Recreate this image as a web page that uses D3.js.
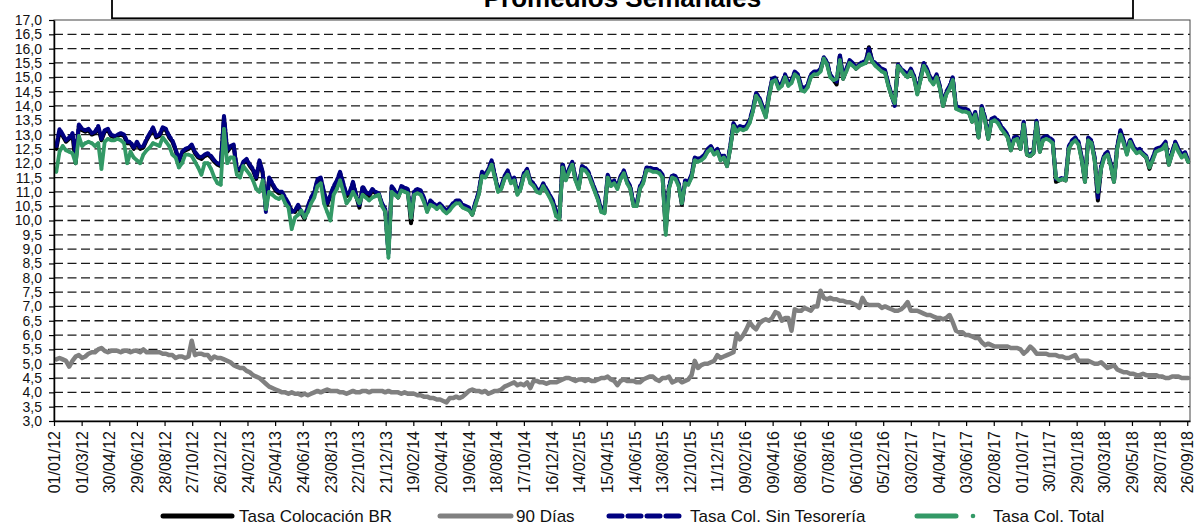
<!DOCTYPE html>
<html><head><meta charset="utf-8">
<script src="https://cdn.jsdelivr.net/npm/d3@7"></script>
<style>
html,body{margin:0;padding:0;background:#fff;}
svg{display:block;font-family:Arial,"Liberation Sans",sans-serif;}
</style></head><body>
<svg id="chart" width="1197" height="525"></svg>
<script>
const title = "Promedios Semanales";
const seriesNames = ["Tasa Colocación BR", "90 Días", "Tasa Col. Sin Tesorería", "Tasa Col. Total"];
const firstWeek = "2012-01-06";
const axisStart = "2012-01-01";
const axisEnd = "2018-10-02";
const xTickLabels = ["01/01/12","01/03/12","30/04/12","29/06/12","28/08/12","27/10/12","26/12/12","24/02/13","25/04/13","24/06/13","23/08/13","22/10/13","21/12/13","19/02/14","20/04/14","19/06/14","18/08/14","17/10/14","16/12/14","14/02/15","15/04/15","14/06/15","13/08/15","12/10/15","11/12/15","09/02/16","09/04/16","08/06/16","07/08/16","06/10/16","05/12/16","03/02/17","04/04/17","03/06/17","02/08/17","01/10/17","30/11/17","29/01/18","30/03/18","29/05/18","28/07/18","26/09/18"];
const yTickValues = [3,3.5,4,4.5,5,5.5,6,6.5,7,7.5,8,8.5,9,9.5,10,10.5,11,11.5,12,12.5,13,13.5,14,14.5,15,15.5,16,16.5,17];

const sinTesoreria = [
12.6,13.2,13.0,12.8,12.9,13.05,12.3,13.35,13.2,13.15,
13.2,13.05,13.1,13.3,12.85,13.15,13.2,13.0,12.95,13.0,
13.05,13.0,12.75,12.75,12.55,12.75,12.55,12.6,12.85,13.05,
13.25,12.95,13.0,13.25,13.2,12.95,12.8,12.5,12.1,12.4,
12.5,12.55,12.65,12.4,12.25,12.2,12.3,12.35,12.25,12.1,
12.0,11.95,13.65,12.45,12.6,12.65,11.8,11.8,12.05,12.15,
11.95,11.8,11.5,12.1,11.7,10.3,11.5,11.3,11.1,11.0,
11.0,10.8,10.6,10.3,10.35,10.55,10.3,10.1,10.5,10.8,
11.0,11.45,11.5,11.0,10.6,10.9,11.2,11.4,11.7,11.3,
10.9,11.0,11.35,10.9,10.5,11.2,11.0,10.9,11.1,11.0,
10.95,10.6,10.4,8.85,11.2,11.05,10.85,11.2,11.15,11.1,
10.1,11.05,11.1,11.05,10.8,10.4,10.7,10.6,10.5,10.6,
10.45,10.35,10.45,10.6,10.7,10.7,10.55,10.5,10.45,10.25,
10.65,11.0,11.7,11.6,11.8,12.1,11.6,11.1,11.2,11.55,
11.75,11.4,11.5,11.0,11.2,11.65,11.8,11.4,11.3,11.1,
11.05,11.3,11.1,10.9,10.7,10.3,10.1,12.0,11.5,11.8,
12.05,11.5,11.2,11.9,11.85,11.7,11.4,11.1,10.8,10.4,
10.35,11.6,11.3,11.4,11.2,11.55,11.75,11.4,11.2,10.6,
10.6,11.2,11.4,11.85,11.85,11.8,11.8,11.75,11.6,9.8,
11.2,11.6,11.55,11.3,10.6,11.4,11.35,11.6,12.2,12.15,
12.2,12.3,12.5,12.6,12.4,12.5,12.2,12.3,11.95,12.6,
13.4,13.2,13.3,13.25,13.3,13.5,13.9,14.45,14.3,14.0,
13.7,14.4,14.95,15.0,14.7,14.8,15.1,14.8,14.9,15.2,
15.1,14.7,14.6,14.75,15.1,15.2,15.2,15.3,15.7,15.55,
15.1,14.95,14.85,15.8,15.0,15.3,15.6,15.5,15.35,15.45,
15.55,15.55,16.0,15.6,15.5,15.4,15.3,15.25,14.8,14.4,
14.0,15.45,15.3,15.2,15.1,15.3,15.05,14.5,15.0,15.5,
15.3,15.0,14.85,15.1,14.7,14.05,14.5,14.7,15.0,14.0,
13.95,13.9,13.9,13.85,13.5,13.8,12.95,14.0,13.6,12.9,
13.55,13.6,13.5,13.3,13.15,13.0,12.5,12.9,12.95,12.55,
13.45,12.35,12.3,12.4,13.5,12.45,12.9,12.95,12.9,12.8,
11.45,11.45,11.5,11.45,12.6,12.8,12.9,12.75,12.2,11.4,
12.9,12.8,12.2,10.8,11.9,12.3,12.4,12.0,11.4,12.6,
13.15,12.8,12.4,12.85,12.6,12.45,12.5,12.35,12.25,11.9,
12.2,12.5,12.55,12.6,12.75,12.0,12.4,12.75,12.5,12.3,
12.4,12.1];

const tasaBR = [
12.5,13.1,12.95,12.75,12.85,13.0,12.0,13.3,13.15,13.1,
13.15,13.0,13.05,13.25,12.8,13.1,13.15,12.95,12.9,12.95,
13.0,12.95,12.7,12.7,12.5,12.7,12.5,12.55,12.8,13.0,
13.2,12.9,12.95,13.2,13.15,12.9,12.75,12.45,12.05,12.35,
12.45,12.5,12.6,12.35,12.2,12.15,12.25,12.3,12.2,12.05,
11.95,11.9,13.6,12.4,12.55,12.6,11.75,11.75,12.0,12.1,
11.9,11.75,11.45,12.05,11.65,10.4,11.45,11.25,11.05,10.95,
10.95,10.75,10.55,10.35,10.3,10.5,10.25,10.05,10.45,10.75,
10.95,11.4,11.45,10.95,10.55,10.85,11.15,11.35,11.65,11.25,
10.85,10.95,11.3,10.85,10.45,11.15,10.95,10.85,11.05,10.95,
10.9,10.55,10.35,8.95,11.15,11.0,10.8,11.15,11.1,11.05,
9.9,11.0,11.05,11.0,10.75,10.35,10.65,10.55,10.45,10.55,
10.4,10.3,10.4,10.55,10.65,10.65,10.5,10.45,10.4,10.2,
10.6,10.95,11.65,11.55,11.75,12.05,11.55,11.05,11.15,11.5,
11.7,11.35,11.45,10.95,11.15,11.6,11.75,11.35,11.25,11.05,
11.0,11.25,11.05,10.85,10.65,10.25,10.1,11.95,11.45,11.75,
12.0,11.45,11.15,11.85,11.8,11.65,11.35,11.05,10.75,10.35,
10.3,11.55,11.25,11.35,11.15,11.5,11.7,11.35,11.15,10.55,
10.55,11.15,11.35,11.8,11.8,11.75,11.75,11.7,11.55,9.65,
11.15,11.55,11.5,11.25,10.55,11.35,11.3,11.55,12.15,12.1,
12.15,12.25,12.45,12.55,12.35,12.45,12.15,12.25,11.9,12.55,
13.35,13.15,13.25,13.2,13.25,13.45,13.85,14.4,14.25,13.95,
13.65,14.35,14.9,14.95,14.65,14.75,15.05,14.75,14.85,15.15,
15.05,14.65,14.55,14.7,15.05,15.15,15.15,15.25,15.65,15.5,
15.05,14.9,14.75,15.75,14.95,15.25,15.55,15.45,15.3,15.4,
15.5,15.5,16.05,15.55,15.45,15.35,15.25,15.2,14.75,14.35,
14.1,15.4,15.25,15.15,15.05,15.25,15.0,14.45,14.95,15.45,
15.25,14.95,14.8,15.05,14.65,14.0,14.45,14.65,14.95,13.95,
13.9,13.85,13.85,13.8,13.45,13.75,12.9,13.95,13.55,12.85,
13.5,13.55,13.45,13.25,13.1,12.95,12.45,12.85,12.9,12.5,
13.4,12.3,12.25,12.35,13.45,12.4,12.85,12.9,12.85,12.75,
11.35,11.4,11.45,11.4,12.55,12.75,12.85,12.7,12.15,11.35,
12.85,12.75,12.15,10.7,11.85,12.25,12.35,11.95,11.35,12.55,
13.1,12.75,12.35,12.8,12.55,12.4,12.45,12.3,12.2,11.8,
12.15,12.45,12.5,12.55,12.7,11.95,12.35,12.7,12.45,12.25,
12.35,12.05];

const colTotal = [
11.7,12.4,12.6,12.45,12.4,12.35,12.0,12.95,12.6,12.7,
12.75,12.7,12.6,12.7,11.8,12.75,12.85,12.8,12.8,12.85,
12.8,12.7,12.0,12.4,12.2,12.1,12.0,12.3,12.45,12.55,
12.7,12.65,12.6,12.9,12.75,12.6,12.3,12.2,11.85,12.0,
12.3,12.3,12.25,12.05,11.85,11.6,12.0,12.0,11.8,11.5,
11.3,11.25,13.2,12.0,12.2,12.2,11.6,11.5,11.9,11.75,
11.6,11.4,11.1,11.0,11.4,10.4,11.0,10.9,10.8,10.75,
10.85,10.6,10.45,9.7,10.1,10.2,10.35,10.1,10.3,10.6,
10.8,11.2,11.3,10.6,10.3,10.0,10.9,11.1,11.4,11.0,
10.6,10.75,11.0,10.8,10.6,10.9,10.8,10.7,10.8,10.85,
10.9,10.5,10.3,8.7,11.0,10.9,10.8,11.05,11.0,10.95,
10.1,10.9,10.95,10.9,10.65,10.3,10.55,10.5,10.4,10.5,
10.35,10.25,10.35,10.5,10.6,10.6,10.45,10.4,10.35,10.2,
10.55,10.9,11.55,11.5,11.7,11.95,11.5,11.0,11.1,11.45,
11.6,11.3,11.4,10.9,11.1,11.55,11.7,11.3,11.2,11.0,
10.95,11.2,11.0,10.8,10.55,10.15,10.05,11.85,11.4,11.7,
11.95,11.4,11.1,11.8,11.75,11.6,11.3,11.0,10.7,10.3,
10.25,11.5,11.2,11.3,11.1,11.45,11.65,11.3,11.1,10.5,
10.5,11.1,11.3,11.75,11.75,11.7,11.7,11.65,11.5,9.5,
11.1,11.5,11.45,11.2,10.6,11.3,11.25,11.5,12.1,12.05,
12.1,12.2,12.4,12.5,12.3,12.4,12.1,12.2,11.9,12.5,
13.3,13.1,13.2,13.15,13.2,13.4,13.8,14.35,14.2,13.9,
13.6,14.3,14.85,14.9,14.6,14.7,15.0,14.7,14.8,15.1,
15.0,14.55,14.5,14.65,15.0,15.1,15.1,15.2,15.65,15.45,
15.0,14.9,14.95,15.6,14.95,15.2,15.5,15.4,15.3,15.4,
15.45,15.5,15.8,15.55,15.4,15.3,15.2,15.15,14.7,14.35,
14.1,15.4,15.25,15.1,15.0,15.2,14.95,14.4,14.9,15.4,
15.2,14.9,14.75,15.0,14.6,14.0,14.4,14.6,14.9,13.9,
13.85,13.8,13.8,13.75,13.45,13.7,12.9,13.9,13.5,12.85,
13.45,13.5,13.4,13.2,13.05,12.9,12.45,12.8,12.85,12.5,
13.35,12.3,12.25,12.35,13.4,12.4,12.8,12.85,12.8,12.7,
11.5,11.4,11.45,11.4,12.5,12.7,12.8,12.65,12.1,11.35,
12.8,12.7,12.1,11.0,11.8,12.2,12.3,11.9,11.35,12.5,
13.0,12.7,12.3,12.75,12.5,12.35,12.4,12.3,12.2,11.85,
12.1,12.4,12.45,12.5,12.65,11.95,12.3,12.65,12.4,12.2,
12.3,12.05];

const dias90 = [
5.15,5.2,5.15,5.1,4.9,5.1,5.25,5.3,5.2,5.25,
5.35,5.4,5.4,5.5,5.55,5.45,5.4,5.45,5.45,5.45,
5.4,5.45,5.45,5.4,5.45,5.45,5.4,5.5,5.4,5.4,
5.4,5.4,5.4,5.35,5.35,5.3,5.3,5.2,5.25,5.25,
5.2,5.25,5.8,5.3,5.35,5.35,5.3,5.3,5.15,5.25,
5.2,5.2,5.15,5.1,5.05,4.95,4.9,4.85,4.85,4.75,
4.7,4.6,4.55,4.5,4.4,4.3,4.2,4.15,4.1,4.05,
4.0,4.0,3.95,4.0,3.95,3.95,3.9,3.95,3.9,3.95,
4.0,4.05,4.0,4.05,4.1,4.05,4.05,4.05,4.0,4.0,
3.95,4.0,4.05,4.0,4.0,4.05,4.05,4.0,4.05,4.05,
4.05,4.05,4.0,4.05,4.0,4.0,4.0,3.95,4.0,3.95,
3.95,3.95,3.9,3.9,3.85,3.85,3.8,3.8,3.75,3.75,
3.7,3.65,3.8,3.8,3.85,3.8,3.85,3.95,4.05,4.1,
4.05,4.05,4.0,4.05,3.95,4.0,4.05,4.05,4.1,4.2,
4.25,4.3,4.35,4.25,4.3,4.25,4.35,4.15,4.4,4.4,
4.35,4.35,4.3,4.35,4.35,4.35,4.4,4.45,4.5,4.5,
4.45,4.4,4.45,4.45,4.4,4.45,4.4,4.4,4.45,4.5,
4.5,4.55,4.45,4.4,4.25,4.4,4.45,4.4,4.4,4.4,
4.35,4.35,4.45,4.5,4.55,4.55,4.45,4.4,4.5,4.5,
4.55,4.35,4.4,4.45,4.35,4.4,4.45,4.6,5.1,4.85,
4.95,5.0,5.0,5.05,5.1,5.3,5.2,5.25,5.3,5.35,
5.4,6.05,5.85,6.0,6.2,6.45,6.3,6.2,6.4,6.5,
6.55,6.5,6.6,6.8,6.75,6.5,6.6,6.6,6.15,6.9,
6.85,6.85,6.95,6.9,6.85,7.0,7.0,7.55,7.3,7.25,
7.3,7.25,7.25,7.2,7.2,7.15,7.15,7.1,7.05,6.95,
7.3,7.1,7.05,7.05,7.05,7.05,6.95,7.0,6.95,6.9,
6.85,6.85,6.9,7.0,7.15,6.85,6.85,6.85,6.8,6.75,
6.7,6.7,6.65,6.6,6.6,6.55,6.6,6.7,6.45,6.15,
6.1,6.1,6.0,6.0,5.95,5.9,5.9,5.75,5.65,5.7,
5.65,5.6,5.6,5.6,5.6,5.6,5.55,5.55,5.55,5.5,
5.35,5.45,5.6,5.5,5.35,5.35,5.35,5.35,5.3,5.3,
5.3,5.25,5.25,5.2,5.2,5.25,5.3,5.1,5.1,5.1,
5.1,5.05,5.0,5.0,5.05,4.95,4.85,4.9,4.95,4.8,
4.75,4.7,4.7,4.65,4.65,4.6,4.6,4.65,4.6,4.6,
4.6,4.6,4.55,4.55,4.5,4.5,4.55,4.55,4.55,4.5,
4.5,4.5];

const colors = ["#000000", "#808080", "#000080", "#339966"];

const svg = d3.select("#chart");
const L = 54, R = 1190, T = 20, B = 421;
const pd = d3.utcParse("%Y-%m-%d");
const pt = d3.utcParse("%d/%m/%y");
const t0 = pd(firstWeek);
const dates = sinTesoreria.map((_, i) => d3.utcDay.offset(t0, 7 * i));
const x = d3.scaleUtc().domain([pd(axisStart), pd(axisEnd)]).range([L, R]);
const y = d3.scaleLinear().domain([3, 17]).range([B, T]);
const fmtY = v => d3.format(".1f")(v).replace(".", ",");

// Title box (cut at top, as in the reference)
svg.append("rect").attr("x", 112).attr("y", -12).attr("width", 1021).attr("height", 30.3)
  .attr("fill", "#fff").attr("stroke", "#000").attr("stroke-width", 1.8);
svg.append("text").attr("x", 622.5).attr("y", 7).attr("text-anchor", "middle")
  .attr("font-size", 26).attr("font-weight", "bold").attr("fill", "#000").text(title);

// gridlines
svg.append("g").selectAll("line").data(yTickValues.filter(v => v > 3 && v < 17)).join("line")
  .attr("x1", L).attr("x2", R).attr("y1", d => y(d)).attr("y2", d => y(d))
  .attr("stroke", "#1a1a1a").attr("stroke-width", 1.3).attr("stroke-dasharray", "9,4.5");

// plot border
svg.append("rect").attr("x", L).attr("y", T).attr("width", R - L).attr("height", B - T)
  .attr("fill", "none").attr("stroke", "#444").attr("stroke-width", 1);

const line = d3.line().x((d, i) => x(dates[i])).y(d => y(d));
const g = svg.append("g").attr("fill", "none").attr("stroke-linejoin", "round").attr("stroke-linecap", "round");
g.append("path").datum(tasaBR).attr("d", line).attr("stroke", colors[0]).attr("stroke-width", 4);
g.append("path").datum(dias90).attr("d", line).attr("stroke", colors[1]).attr("stroke-width", 4.5);
g.append("path").datum(sinTesoreria).attr("d", line).attr("stroke", colors[2]).attr("stroke-width", 4)
  .attr("stroke-dasharray", "7,3");
g.append("path").datum(colTotal).attr("d", line).attr("stroke", colors[3]).attr("stroke-width", 3.8);
svg.append("g").selectAll("circle").data(colTotal).join("circle")
  .attr("cx", (d, i) => x(dates[i])).attr("cy", d => y(d)).attr("r", 1.8).attr("fill", colors[3]);

// axes
const yAxis = svg.append("g").attr("transform", `translate(${L},0)`)
  .call(d3.axisLeft(y).tickValues(yTickValues).tickSize(5).tickSizeOuter(0).tickPadding(7).tickFormat(fmtY));
yAxis.selectAll("text").attr("font-size", 14).attr("fill", "#111").attr("font-family", "Arial, 'Liberation Sans', sans-serif");
yAxis.select(".domain").attr("stroke", "#000").attr("stroke-width", 1.5);
yAxis.selectAll(".tick line").attr("stroke", "#000").attr("stroke-width", 1.2);

const xAxis = svg.append("g").attr("transform", `translate(0,${B})`)
  .call(d3.axisBottom(x).tickValues(xTickLabels.map(pt)).tickSize(5).tickSizeOuter(0).tickFormat(d3.utcFormat("%d/%m/%y")));
xAxis.select(".domain").attr("stroke", "#000").attr("stroke-width", 1.5);
xAxis.selectAll(".tick line").attr("stroke", "#000").attr("stroke-width", 1.2);
xAxis.selectAll("text").attr("font-size", 16).attr("fill", "#111")
  .attr("font-family", "Arial, 'Liberation Sans', sans-serif")
  .attr("transform", "rotate(-90)").attr("x", -10).attr("y", 0).attr("dy", "0.35em").attr("text-anchor", "end");

// legend
const lg = svg.append("g").attr("font-size", 17).attr("fill", "#111");
const ly = 516;
const items = [
  {x1: 163, x2: 232, tx: 239, c: colors[0], dash: null},
  {x1: 440, x2: 511, tx: 516, c: colors[1], dash: null},
  {x1: 609, x2: 684, tx: 690, c: colors[2], dash: "13,6"},
  {x1: 917, x2: 956, tx: 993, c: colors[3], dash: null, dot: 973}
];
items.forEach((it, k) => {
  lg.append("line").attr("x1", it.x1).attr("x2", it.x2).attr("y1", ly).attr("y2", ly)
    .attr("stroke", it.c).attr("stroke-width", 5).attr("stroke-linecap", "round")
    .attr("stroke-dasharray", it.dash);
  if (it.dot) lg.append("circle").attr("cx", it.dot).attr("cy", ly).attr("r", 2.3).attr("fill", it.c);
  lg.append("text").attr("x", it.tx).attr("y", ly + 6).text(seriesNames[k]);
});
</script>
</body></html>
